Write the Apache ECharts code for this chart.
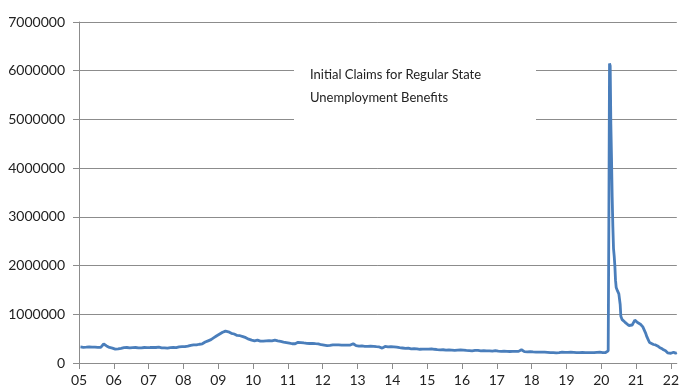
<!DOCTYPE html>
<html>
<head>
<meta charset="utf-8">
<script src="https://cdn.jsdelivr.net/npm/echarts@6/dist/echarts.min.js"></script>
<style>
  html, body { margin: 0; padding: 0; background: #fff; }
  #main { width: 682px; height: 392px; }
</style>
</head>
<body>
<div id="main"></div>
<script>
// monthly averages (thousands), Jan 2005 .. Feb 2020, one row per year
var firstYear = 2005;
var monthlyClaims = [
    330, 322, 325, 330, 325, 325, 320, 320, 390, 350, 320, 305,
    285, 290, 300, 315, 318, 310, 315, 318, 310, 312, 318, 315,
    318, 322, 318, 325, 312, 312, 305, 315, 318, 315, 330, 335,
    335, 345, 360, 370, 372, 385, 395, 430, 455, 480, 520, 560,
    595, 630, 655, 640, 610, 595, 565, 560, 540, 520, 490, 470,
    455, 470, 450, 450, 455, 460, 455, 470, 455, 445, 430, 420,
    410, 395, 395, 425, 420, 412, 405, 400, 405, 398, 392, 375,
    365, 355, 360, 370, 372, 372, 368, 368, 365, 368, 395, 355,
    345, 350, 342, 342, 345, 342, 335, 330, 305, 340, 330, 335,
    330, 325, 315, 308, 300, 305, 292, 295, 292, 282, 285, 285,
    285, 292, 282, 275, 270, 272, 265, 268, 265, 260, 265, 268,
    265, 258, 255, 250, 258, 258, 250, 252, 250, 250, 245, 252,
    242, 238, 242, 238, 236, 238, 238, 238, 272, 232, 230, 235,
    228, 222, 222, 222, 222, 218, 212, 212, 208, 212, 222, 218,
    218, 222, 218, 212, 212, 218, 212, 212, 212, 212, 218, 222,
    215, 215
];

// weekly readings around the 2020 spike and after (thousands)
var weekDates = [
    '2020-03-07', '2020-03-14', '2020-03-21', '2020-03-28', '2020-04-04',
    '2020-04-11', '2020-04-18', '2020-04-25', '2020-05-02', '2020-05-09',
    '2020-05-16', '2020-05-23', '2020-05-30', '2020-06-06', '2020-06-13',
    '2020-06-20', '2020-06-27', '2020-07-04', '2020-07-11', '2020-07-18',
    '2020-07-25', '2020-08-08', '2020-08-22', '2020-09-05', '2020-09-26',
    '2020-10-17', '2020-11-07', '2020-11-21', '2020-12-05', '2020-12-19',
    '2021-01-02', '2021-01-16', '2021-01-30', '2021-02-20', '2021-03-13',
    '2021-03-27', '2021-04-10', '2021-04-24', '2021-05-08', '2021-05-22',
    '2021-06-12', '2021-07-03', '2021-07-24', '2021-08-14', '2021-09-04',
    '2021-09-25', '2021-10-16', '2021-11-06', '2021-11-27', '2021-12-11',
    '2022-01-01', '2022-01-15', '2022-01-29', '2022-02-19', '2022-03-05'
];
var weekClaims = [
    215, 250, 2900, 6150, 6100,
    4900, 4200, 3400, 2800, 2350,
    2200, 2000, 1700, 1550, 1520,
    1480, 1450, 1420, 1380, 1200,
    960, 890, 870, 840, 800,
    770, 740, 780, 830, 880,
    870, 830, 820, 790, 740,
    700, 620, 540, 480, 420,
    400, 380, 370, 350, 320,
    300, 270, 250, 210, 185,
    200, 230, 220, 200, 210
];

var yTicks = [0, 1000000, 2000000, 3000000, 4000000, 5000000, 6000000, 7000000];

function toYear(s) {
    var d = new Date(s + 'T00:00:00Z');
    var y = d.getUTCFullYear();
    var a = Date.UTC(y, 0, 1), b = Date.UTC(y + 1, 0, 1);
    return y + (d.getTime() - a) / (b - a);
}

var seriesData = [];
for (var i = 0; i < monthlyClaims.length; i++) {
    var yr = firstYear + Math.floor(i / 12);
    var m = i % 12;
    seriesData.push([yr + (m + 0.5) / 12, monthlyClaims[i] * 1000]);
}
for (var j = 0; j < weekDates.length; j++) {
    seriesData.push([toYear(weekDates[j]), weekClaims[j] * 1000]);
}

var myChart = echarts.init(document.getElementById('main'));

var option = {
    animation: false,
    backgroundColor: '#fff',
    grid: { left: 79, right: 0, top: 22, bottom: 29 },
    xAxis: {
        type: 'value',
        min: 2005,
        max: 2022.17,
        interval: 1,
        splitLine: { show: false },
        axisLine: { lineStyle: { color: '#8c8c8c', width: 1 } },
        axisTick: { show: true, length: 6, lineStyle: { color: '#8c8c8c' } },
        axisLabel: {
            margin: 10,
            color: '#222',
            fontFamily: 'Lato',
            fontSize: 14,
            showMaxLabel: false,
            formatter: function (v) {
                var r = Math.round(v);
                if (Math.abs(v - r) > 0.001) return '';
                return String(r).slice(2);
            }
        }
    },
    yAxis: {
        type: 'value',
        min: yTicks[0],
        max: yTicks[yTicks.length - 1],
        interval: 1000000,
        axisLine: { show: true, lineStyle: { color: '#8c8c8c', width: 1 } },
        axisTick: { show: true, length: 6, lineStyle: { color: '#8c8c8c' } },
        splitLine: { lineStyle: { color: '#8c8c8c', width: 1 } },
        axisLabel: {
            margin: 14,
            color: '#222',
            fontFamily: 'Lato',
            fontSize: 14,
            formatter: function (v) { return String(v); }
        }
    },
    graphic: [
        {
            type: 'rect',
            shape: { x: 294, y: 58, width: 242, height: 68 },
            style: { fill: '#fff' },
            z: 10
        },
        {
            type: 'text',
            left: 310,
            top: 63,
            z: 11,
            style: {
                text: 'Initial Claims for Regular State\nUnemployment Benefits',
                fill: '#222',
                font: '13px Lato',
                lineHeight: 23
            }
        }
    ],
    series: [{
        type: 'line',
        data: seriesData,
        symbol: 'none',
        lineStyle: { color: '#4a7ebb', width: 2.8 },
        itemStyle: { color: '#4a7ebb' }
    }]
};

myChart.setOption(option);
</script>
</body>
</html>
